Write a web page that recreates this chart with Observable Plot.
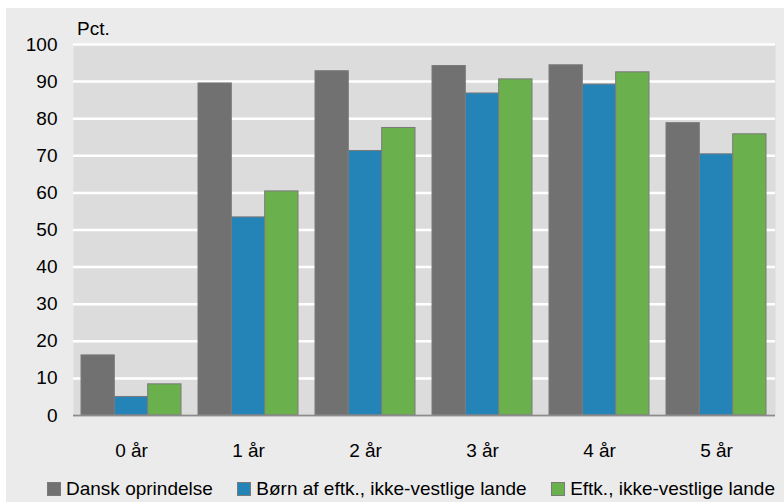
<!DOCTYPE html>
<html>
<head>
<meta charset="utf-8">
<script src="https://cdn.jsdelivr.net/npm/d3@7"></script>
<script src="https://cdn.jsdelivr.net/npm/@observablehq/plot@0.6"></script>
<style>
  html, body { margin: 0; padding: 0; background: #ffffff; }
  body { width: 784px; height: 502px; position: relative; overflow: hidden;
         font-family: "Liberation Sans", Arial, sans-serif; color: #000; }
  #panel { position: absolute; left: 6px; top: 8px; width: 778px; height: 494px; background: #ebebeb; }
  #unit { position: absolute; left: 71px; top: 11px; font-size: 19px; line-height: 19px; }
  #chart { position: absolute; left: 0; top: 0; }
  #legend { position: absolute; left: 41px; top: 471px; width: 728px; display: flex;
            justify-content: space-between; align-items: center; font-size: 19px; line-height: 19px; }
  .item { display: flex; align-items: center; white-space: nowrap; }
  .sw { width: 14px; height: 14px; margin-right: 5px; box-sizing: border-box; }
</style>
</head>
<body>
<div id="panel">
  <div id="chart"></div>
  <div id="unit">Pct.</div>
  <div id="legend"></div>
</div>
<script>
const years = ["0 år", "1 år", "2 år", "3 år", "4 år", "5 år"];
const seriesNames = ["Dansk oprindelse", "Børn af eftk., ikke-vestlige lande", "Eftk., ikke-vestlige lande"];
const dansk = [16.2, 89.5, 92.8, 94.2, 94.4, 78.8];
const boern = [5.0, 53.4, 71.3, 86.8, 89.2, 70.4];
const eftk = [8.4, 60.4, 77.5, 90.6, 92.5, 75.8];
const colors = ["#717171", "#2484b8", "#6ab04c"];
const yTicks = [0, 10, 20, 30, 40, 50, 60, 70, 80, 90, 100];

const seriesValues = [dansk, boern, eftk];
const data = [];
seriesNames.forEach((s, si) => years.forEach((y, yi) => data.push({year: y, series: s, si, value: seriesValues[si][yi]})));

const W = 778, H = 452;
const mL = 67, mR = 9, mT = 36, mB = 45;
const pInner = 0.145, pOuter = 0.0725;
const step = (W - mL - mR) / (years.length - pInner + 2 * pOuter);
const bw = step * (1 - pInner);
const sub = bw / 3;

const barMarks = seriesNames.map((s, si) =>
  Plot.barY(data.filter(d => d.si === si), {
    x: "year", y: "value",
    fill: colors[si], stroke: "#7a7a7a", strokeWidth: 1,
    insetLeft: sub * si, insetRight: sub * (2 - si)
  })
);

const plot = Plot.plot({
  width: W, height: H,
  marginLeft: mL, marginRight: mR, marginTop: mT, marginBottom: mB,
  style: { background: "transparent", fontSize: "19px", fontFamily: "'Liberation Sans', Arial, sans-serif", color: "#000" },
  x: { domain: years, paddingInner: pInner, paddingOuter: pOuter, label: null, tickSize: 0, tickPadding: 28 },
  y: { domain: [0, 100], ticks: yTicks, label: null, tickSize: 0, tickPadding: 16 },
  marks: [
    Plot.frame({ fill: "#dcdcdc", stroke: null }),
    Plot.ruleY(yTicks, { stroke: "#ffffff", strokeWidth: 2.5 }),
    ...barMarks,
    Plot.ruleY([0], { stroke: "#8c8c8c", strokeWidth: 2 })
  ]
});
document.getElementById("chart").appendChild(plot);

const legend = document.getElementById("legend");
seriesNames.forEach((s, i) => {
  const item = document.createElement("div");
  item.className = "item";
  const sw = document.createElement("div");
  sw.className = "sw";
  sw.style.background = colors[i];
  sw.style.border = "1px solid #7a7a7a";
  const t = document.createElement("span");
  t.textContent = s;
  item.appendChild(sw); item.appendChild(t);
  legend.appendChild(item);
});
</script>
</body>
</html>
